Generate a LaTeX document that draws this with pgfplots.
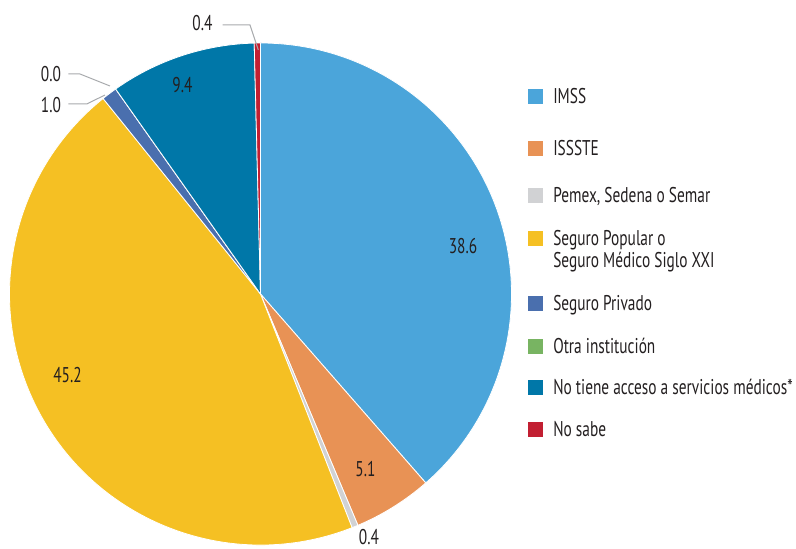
\documentclass[border=0pt]{standalone}
\usepackage{pgfplots}
\pgfplotsset{compat=1.18}
\usepackage{fontspec}
\setmainfont{PT Sans}[FakeStretch=0.72]
\definecolor{cImss}{HTML}{4BA5DA}
\definecolor{cIssste}{HTML}{E89255}
\definecolor{cPemex}{HTML}{D1D2D4}
\definecolor{cPop}{HTML}{F5C023}
\definecolor{cPriv}{HTML}{4A6FAE}
\definecolor{cOtra}{HTML}{78B462}
\definecolor{cNo}{HTML}{0077A8}
\definecolor{cSabe}{HTML}{C21F32}
\definecolor{txt}{HTML}{231F20}
\definecolor{lead}{HTML}{A7A9AC}
\newcommand\lf{\fontsize{16}{16.5}\selectfont}
\gdef\cum{0}
\newcommand\slice[2]{%
  \pgfmathsetmacro\aS{90-3.596404*\cum}%
  \pgfmathsetmacro\cumnew{\cum+#1}%
  \pgfmathsetmacro\aE{90-3.596404*\cumnew}%
  \global\let\cum\cumnew
  \edef\temp{\noexpand\fill[#2, draw=white, line width=0.6pt] (axis cs:260.5,-294) -- ++(\aS:188.25pt) arc[start angle=\aS, end angle=\aE, radius=188.25pt] -- cycle;}%
  \temp
}
\newcommand\legitem[3]{% y-baseline, colour, text
  \fill[#2] (axis cs:528,-#1) rectangle (axis cs:543,-#1+15);
  \node[anchor=base west, inner sep=0pt, text=txt, font=\lf] at (axis cs:553,-#1) {#3};
}
\begin{document}
\begin{tikzpicture}
\begin{axis}[
  scale only axis, width=597pt, height=411.75pt,
  xmin=0, xmax=796, ymin=-549, ymax=0,
  hide axis, clip=false]
\coordinate (BL) at (axis cs:0,-549);
\coordinate (TR) at (axis cs:796,0);
% pie slices (percent values)
\slice{38.6}{cImss}
\slice{5.1}{cIssste}
\slice{0.4}{cPemex}
\slice{45.2}{cPop}
\slice{1.0}{cPriv}
\slice{0.0}{cOtra}
\slice{9.4}{cNo}
\slice{0.4}{cSabe}
% value labels
\node[text=txt, font=\lf, inner sep=0pt] at (axis cs:463,-246) {38.6};
\node[text=txt, font=\lf, inner sep=0pt] at (axis cs:365.5,-469.5) {5.1};
\node[text=txt, font=\lf, inner sep=0pt] at (axis cs:369,-537) {0.4};
\node[text=txt, font=\lf, inner sep=0pt] at (axis cs:67.5,-375.5) {45.2};
\node[text=txt, font=\lf, inner sep=0pt] at (axis cs:182.5,-85) {9.4};
\node[text=txt, font=\lf, inner sep=0pt] at (axis cs:202.5,-23.5) {0.4};
\node[text=txt, font=\lf, inner sep=0pt] at (axis cs:51,-74) {0.0};
\node[text=txt, font=\lf, inner sep=0pt] at (axis cs:51,-105) {1.0};
% leader lines
\draw[lead, line width=0.75pt] (axis cs:222.7,-25) -- (axis cs:250,-25) -- (axis cs:258.3,-50);
\draw[lead, line width=0.75pt] (axis cs:68.3,-74) -- (axis cs:80,-74) -- (axis cs:110,-86);
\draw[lead, line width=0.75pt] (axis cs:68.3,-104) -- (axis cs:86.7,-104) -- (axis cs:105,-95);
% legend
\legitem{104}{cImss}{IMSS}
\legitem{156}{cIssste}{ISSSTE}
\legitem{203}{cPemex}{Pemex, Sedena o Semar}
\legitem{246}{cPop}{Seguro Popular o}
\node[anchor=base west, inner sep=0pt, text=txt, font=\lf] at (axis cs:553,-268) {Seguro Médico Siglo XXI};
\legitem{311}{cPriv}{Seguro Privado}
\legitem{354}{cOtra}{Otra institución}
\legitem{395}{cNo}{No tiene acceso a servicios médicos*}
\legitem{437}{cSabe}{No sabe}
\end{axis}
\pgfresetboundingbox
\path (BL) rectangle (TR);
\end{tikzpicture}
\end{document}
